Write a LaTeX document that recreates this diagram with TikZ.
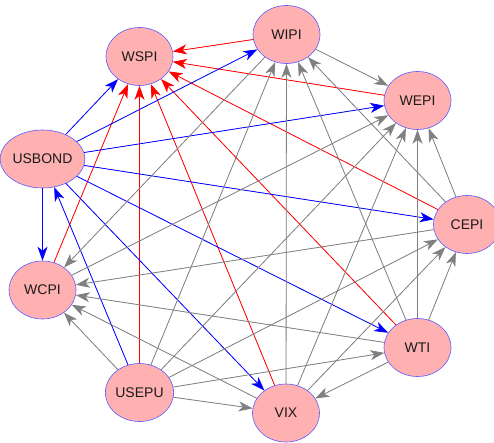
\documentclass[tikz,border=0pt]{standalone}
\usepackage{fontspec}
\setmainfont{Liberation Sans}
\usetikzlibrary{shapes.geometric,arrows.meta}
\definecolor{nodepink}{HTML}{FFB0B0}
\definecolor{nodeedge}{HTML}{5A5AFF}
\definecolor{linkgray}{HTML}{808080}
\definecolor{labelink}{HTML}{1A1A1A}

\begin{document}
\begin{tikzpicture}[x=1pt,y=-1pt,
  var/.style={ellipse, draw=nodeedge, fill=nodepink, line width=0.6pt,
    minimum width=67pt, minimum height=58pt, inner sep=0pt,
    text=labelink, font=\fontsize{14}{16}\selectfont},
  link/.style={line width=0.8pt, -{Stealth[length=14pt,width=10pt,inset=4pt]}},
  neg/.style={link, draw=red, fill=red},
  bond/.style={link, draw=blue, fill=blue},
  other/.style={link, draw=linkgray, fill=linkgray}
]
\useasboundingbox (0,0) rectangle (494,443);

% variables placed around a circle
\node[var] (WSPI)   at (139.5, 56.5) {WSPI};
\node[var] (WIPI)   at (286.5, 34.5) {WIPI};
\node[var] (WEPI)   at (417.5,100.5) {WEPI};
\node[var] (CEPI)   at (467,  224.5) {CEPI};
\node[var] (WTI)    at (417.5,347.5) {WTI};
\node[var] (VIX)    at (286,  413)   {VIX};
\node[var] (USEPU)  at (139.5,392.5) {USEPU};
\node[var] (WCPI)   at (42.5, 290)   {WCPI};
\node[var] (USBOND) at (42.5, 159)   {USBOND};

% links into WSPI
\foreach \s in {WIPI,WEPI,CEPI,WTI,VIX,USEPU,WCPI}
  \draw[neg] (\s) -- (WSPI);

% links out of USBOND
\foreach \t in {WSPI,WIPI,WEPI,CEPI,WTI,VIX,WCPI}
  \draw[bond] (USBOND) -- (\t);
\draw[bond] (USEPU) -- (USBOND);

% remaining links
\draw[other] (WIPI) -- (WEPI);
\draw[other] (WIPI) -- (WCPI);
\foreach \s in {USEPU,VIX,WTI,CEPI}
  \draw[other] (\s) -- (WIPI);
\foreach \s in {WCPI,USEPU,VIX,WTI,CEPI}
  \draw[other] (\s) -- (WEPI);
\foreach \s in {USEPU,VIX,WTI}
  \draw[other] (\s) -- (CEPI);
\draw[other] (CEPI) -- (WCPI);
\draw[other] (USEPU) -- (WTI);
\draw[other] (WTI) -- (VIX);
\draw[other] (WTI) -- (WCPI);
\draw[other] (USEPU) -- (VIX);
\draw[other] (VIX) -- (WCPI);
\draw[other] (USEPU) -- (WCPI);
\end{tikzpicture}
\end{document}
